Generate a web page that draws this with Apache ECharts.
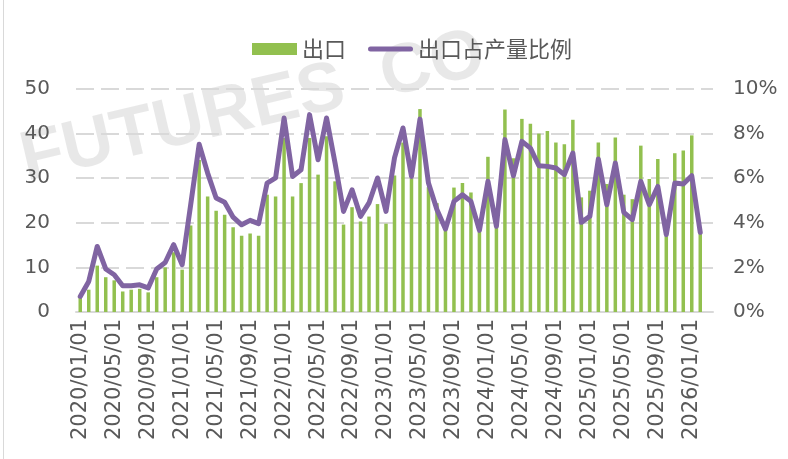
<!DOCTYPE html>
<html>
<head>
<meta charset="utf-8">
<script src="https://cdn.jsdelivr.net/npm/echarts@6/dist/echarts.min.js"></script>
<style>
  html, body { margin: 0; padding: 0; background: #fff; }
  #chart { width: 788px; height: 459px; }
</style>
</head>
<body>
<div id="chart"></div>
<script>
// monthly categories 2020/01 .. 2026/03 (last month has no data yet)
const months = []
for (let y = 2020; y <= 2026; y++) {
  for (let m = 1; m <= 12; m++) {
    if (y === 2026 && m > 3) break
    months.push(y + '/' + String(m).padStart(2, '0') + '/01')
  }
}

// 出口 (left axis)
const exportVol = [
  3.5, 5.0, 10.4, 7.8, 7.1, 4.6, 5.0, 5.2, 4.4, 7.8, 10.0, 13.4,
  9.5, 19.4, 34.1, 25.9, 22.7, 21.8, 19.0, 17.1, 17.6, 17.1, 26.3, 25.9,
  39.0, 25.9, 28.9, 39.0, 30.8, 39.4, 29.3, 19.6, 23.5, 20.3, 21.4, 24.2,
  19.8, 30.6, 38.0, 30.0, 45.5, 28.0, 24.4, 19.5, 27.9, 28.9, 26.8, 18.0,
  34.8, 19.0, 45.4, 34.5, 43.3, 42.2, 40.0, 40.6, 38.0, 37.6, 43.1, 25.7,
  27.2, 38.0, 28.7, 39.1, 26.3, 25.3, 37.3, 29.8, 34.3, 17.0, 35.6, 36.2,
  39.6, 17.7, null
]

// 出口占产量比例, % (right axis)
const exportShare = [
  0.70, 1.37, 2.94, 1.93, 1.67, 1.18, 1.18, 1.22, 1.08, 1.93, 2.22, 3.02,
  2.12, 4.80, 7.52, 6.23, 5.11, 4.92, 4.25, 3.91, 4.11, 3.96, 5.78, 6.01,
  8.70, 6.08, 6.38, 8.85, 6.83, 8.70, 6.68, 4.51, 5.48, 4.29, 4.89, 6.01,
  4.51, 6.91, 8.25, 6.08, 8.65, 5.78, 4.59, 3.72, 4.96, 5.26, 4.96, 3.66,
  5.86, 3.84, 7.73, 6.11, 7.65, 7.35, 6.56, 6.53, 6.46, 6.16, 7.13, 4.02,
  4.29, 6.86, 4.81, 6.68, 4.47, 4.14, 5.86, 4.81, 5.63, 3.47, 5.78, 5.74,
  6.11, 3.57, null
]

const leftTicks = { min: 0, max: 50, interval: 10 }
const rightTicks = { min: 0, max: 10, interval: 2 }

const textColor = '#595959'
const gridColor = '#d9d9d9'
const purple = '#8064a2'
const numFont = '"DejaVu Sans", sans-serif'

const chart = echarts.init(document.getElementById('chart'))

const option = {
  backgroundColor: '#fff',
  animation: false,
  graphic: [
    {
      type: 'text',
      z: -10,
      x: 14,
      y: 128,
      rotation: 0.23,
      style: {
        text: 'FUTURES  CO',
        font: 'bold 70px "Liberation Sans", sans-serif',
        fill: 'rgba(0,0,0,0.09)',
        textBaseline: 'bottom',
      },
    },
    {
      type: 'line',
      z: -10,
      shape: { x1: 3.5, y1: 0, x2: 3.5, y2: 459 },
      style: { stroke: gridColor, lineWidth: 1 },
    },
  ],
  legend: {
    left: 247,
    top: 33,
    itemWidth: 45,
    itemHeight: 12,
    itemGap: 22,
    textStyle: {
      color: textColor,
      fontSize: 22,
      fontFamily: '"Noto Sans CJK SC", sans-serif',
    },
    data: [
      { name: '出口', icon: 'rect' },
      {
        name: '出口占产量比例',
        icon: 'path://M2.5,0 H42.5 A2.5,2.5 0 0 1 42.5,5 H2.5 A2.5,2.5 0 0 1 2.5,0 Z',
      },
    ],
  },
  grid: {
    left: 76,
    right: 75,
    top: 89,
    bottom: 147,
  },
  xAxis: {
    type: 'category',
    data: months,
    axisLine: { lineStyle: { color: gridColor, width: 2 } },
    axisTick: {
      interval: 3,
      length: 6,
      lineStyle: { color: gridColor, width: 2 },
    },
    axisLabel: {
      interval: 3,
      rotate: 90,
      margin: 7,
      color: textColor,
      fontSize: 21,
      fontFamily: numFont,
    },
  },
  yAxis: [
    {
      type: 'value',
      ...leftTicks,
      axisLine: { show: false },
      axisTick: { show: false },
      axisLabel: {
        color: textColor,
        fontSize: 20,
        fontFamily: numFont,
        margin: 26,
      },
      splitLine: {
        lineStyle: { color: gridColor, width: 2, type: [18, 7] },
      },
    },
    {
      type: 'value',
      ...rightTicks,
      axisLine: { show: false },
      axisTick: { show: false },
      axisLabel: {
        color: textColor,
        fontSize: 20,
        fontFamily: numFont,
        margin: 20,
        formatter: '{value}%',
      },
      splitLine: { show: false },
    },
  ],
  series: [
    {
      name: '出口',
      type: 'bar',
      yAxisIndex: 0,
      data: exportVol,
      barWidth: 3.5,
      itemStyle: { color: '#92c04f' },
    },
    {
      name: '出口占产量比例',
      type: 'line',
      yAxisIndex: 1,
      data: exportShare,
      symbol: 'none',
      lineStyle: { color: purple, width: 5, cap: 'round', join: 'round' },
      itemStyle: { color: purple },
    },
  ],
}

chart.setOption(option)
</script>
</body>
</html>
